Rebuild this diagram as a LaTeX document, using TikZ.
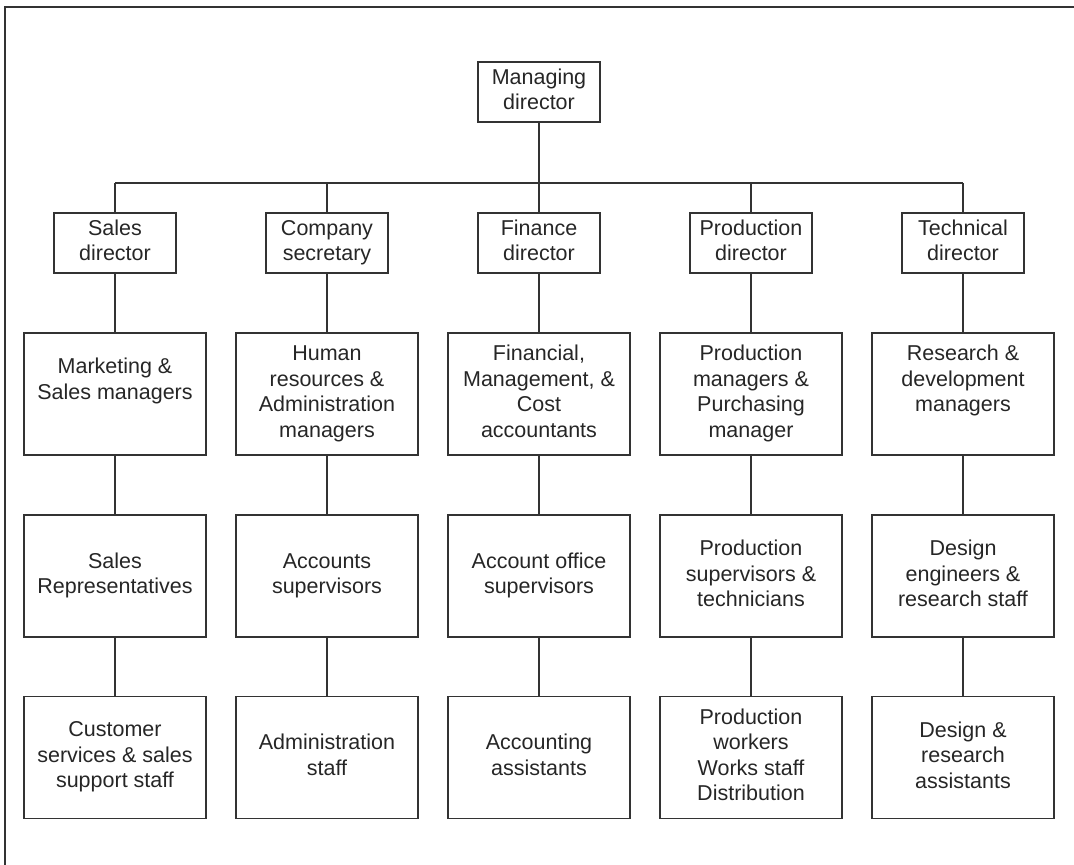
\documentclass[tikz,border=0pt]{standalone}
\usepackage{fontspec}
\setmainfont{Liberation Sans}
\definecolor{ink}{HTML}{333333}
\definecolor{txt}{HTML}{262626}
\newcommand\boxstrut{\rule[-5.2pt]{0pt}{26.1pt}}
\begin{document}
\begin{tikzpicture}[x=1pt,y=-1pt,
  every node/.style={text=txt, font=\fontsize{21.5}{25.5}\selectfont, align=center, inner sep=0pt,
    execute at begin node={\boxstrut}, execute at end node={\boxstrut}},
  dirbox/.style={draw=ink, line width=1.8pt, rectangle, minimum width=122pt, minimum height=60pt},
  staffbox/.style={draw=ink, line width=1.8pt, rectangle, minimum width=182pt, minimum height=122pt},
  link/.style={draw=ink, line width=1.8pt},
  frame/.style={draw=ink, line width=1.6pt}]
\useasboundingbox (0,0) rectangle (1074,865);
\draw[frame] (5,865) -- (5,7) -- (1074,7);
\coordinate (bar) at (539,183);
\node[dirbox] (md) at (539,92) {Managing\\director};
% directors
\node[dirbox] (d1) at (115,243) {Sales\\director};
\node[dirbox] (d2) at (327,243) {Company\\secretary};
\node[dirbox] (d3) at (539,243) {Finance\\director};
\node[dirbox] (d4) at (751,243) {Production\\director};
\node[dirbox] (d5) at (963,243) {Technical\\director};
% managers
\node[staffbox] (a1) at (115,394) {Marketing \&\\Sales managers\\};
\node[staffbox] (a2) at (327,394) {Human\\resources \&\\Administration\\managers};
\node[staffbox] (a3) at (539,394) {Financial,\\Management, \&\\Cost\\accountants};
\node[staffbox] (a4) at (751,394) {Production\\managers \&\\Purchasing\\manager};
\node[staffbox] (a5) at (963,394) {Research \&\\development\\managers\\};
% supervisors
\node[staffbox] (b1) at (115,576) {Sales\\Representatives};
\node[staffbox] (b2) at (327,576) {Accounts\\supervisors};
\node[staffbox] (b3) at (539,576) {Account office\\supervisors};
\node[staffbox] (b4) at (751,576) {Production\\supervisors \&\\technicians};
\node[staffbox] (b5) at (963,576) {Design\\engineers \&\\research staff};
% staff
\node[staffbox] (c1) at (115,757.5) {Customer\\services \& sales\\support staff};
\node[staffbox] (c2) at (327,757.5) {Administration\\staff};
\node[staffbox] (c3) at (539,757.5) {Accounting\\assistants};
\node[staffbox] (c4) at (751,757.5) {Production\\workers\\Works staff\\Distribution};
\node[staffbox] (c5) at (963,757.5) {Design \&\\research\\assistants};
% connectors
\draw[link] (md.south) -- (bar);
\draw[link] (d1.north |- bar) -- (d5.north |- bar);
\foreach \i in {1,...,5}{
  \draw[link] (d\i.north |- bar) -- (d\i.north);
  \draw[link] (d\i.south) -- (a\i.north);
  \draw[link] (a\i.south) -- (b\i.north);
  \draw[link] (b\i.south) -- (c\i.north);
}
\end{tikzpicture}
\end{document}
